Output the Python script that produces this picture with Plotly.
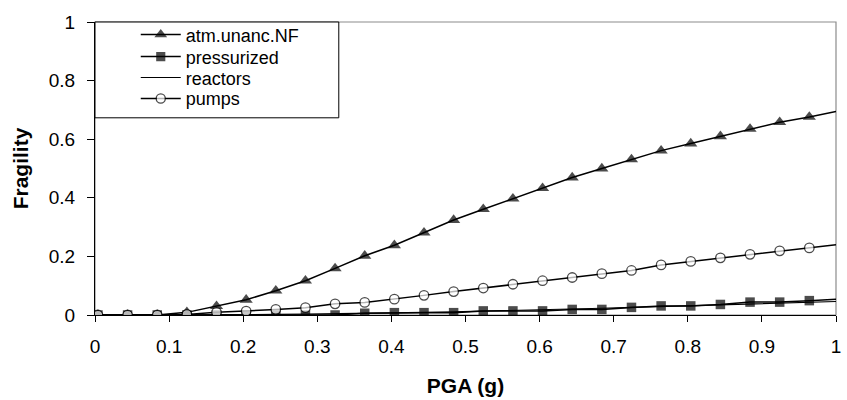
import plotly.graph_objects as go

# PGA values at the marked points, plus the curve end at 1.0
pga = [0.004, 0.044, 0.084, 0.124, 0.164, 0.204, 0.244, 0.284, 0.324, 0.364,
       0.404, 0.444, 0.484, 0.524, 0.564, 0.604, 0.644, 0.684, 0.724, 0.764,
       0.804, 0.844, 0.884, 0.924, 0.964, 1.0]

atm_unanc_nf = [0.0, 0.0, 0.0, 0.009, 0.03, 0.052, 0.083, 0.117, 0.159, 0.202,
                0.238, 0.281, 0.324, 0.361, 0.397, 0.433, 0.469, 0.500, 0.531, 0.561,
                0.585, 0.610, 0.635, 0.658, 0.676, 0.695]
pressurized = [0.0, 0.0, 0.0, 0.0, 0.0, 0.0, 0.0, 0.0, 0.0, 0.006,
               0.008, 0.008, 0.008, 0.014, 0.014, 0.014, 0.019, 0.019, 0.026, 0.031,
               0.031, 0.036, 0.044, 0.044, 0.049, 0.054]
reactors = [0.0, 0.0, 0.0, 0.0, 0.0, 0.001, 0.002, 0.003, 0.004, 0.005,
            0.007, 0.009, 0.011, 0.013, 0.015, 0.018, 0.020, 0.023, 0.026, 0.029,
            0.031, 0.034, 0.037, 0.040, 0.043, 0.046]
pumps = [0.0, 0.0, 0.0, 0.002, 0.009, 0.013, 0.019, 0.025, 0.038, 0.043,
         0.054, 0.067, 0.080, 0.092, 0.105, 0.117, 0.128, 0.141, 0.152, 0.171,
         0.183, 0.195, 0.207, 0.219, 0.229, 0.240]

series_names = ["atm.unanc.NF", "pressurized", "reactors", "pumps"]

x_ticks = [0, 0.1, 0.2, 0.3, 0.4, 0.5, 0.6, 0.7, 0.8, 0.9, 1]
x_tick_labels = ["0", "0.1", "0.2", "0.3", "0.4", "0.5", "0.6", "0.7", "0.8", "0.9", "1"]
y_ticks = [0, 0.2, 0.4, 0.6, 0.8, 1]
y_tick_labels = ["0", "0.2", "0.4", "0.6", "0.8", "1"]

FONT = "Liberation Sans, Arial, sans-serif"
n = len(pga)


def sizes(s):
    # markers on every sampled point except the curve end at 1.0
    return [s] * (n - 1) + [0]


fig = go.Figure()
fig.add_trace(go.Scatter(
    x=pga, y=atm_unanc_nf, name=series_names[0], mode="lines+markers",
    legend="legend",
    line=dict(color="black", width=1.5),
    marker=dict(symbol="triangle-up", size=sizes(11.5), color="black",
                line=dict(width=0))))
fig.add_trace(go.Scatter(
    x=pga, y=pressurized, name=series_names[1], mode="lines+markers",
    legend="legend2",
    line=dict(color="black", width=1.5),
    marker=dict(symbol="square", size=sizes(9.5), color="black",
                line=dict(width=0))))
fig.add_trace(go.Scatter(
    x=pga, y=reactors, name=series_names[2], mode="lines",
    legend="legend3",
    line=dict(color="black", width=1.2)))
fig.add_trace(go.Scatter(
    x=pga, y=pumps, name=series_names[3], mode="lines+markers",
    legend="legend4",
    line=dict(color="black", width=1.5),
    marker=dict(symbol="circle", size=sizes(9.5), color="white",
                line=dict(color="black", width=1.3))))

# plot-area border (grey) and legend box
fig.add_shape(type="rect", xref="paper", yref="paper", x0=0, x1=1, y0=0, y1=1,
              line=dict(color="#8c8c8c", width=1.2), layer="below")
fig.add_shape(type="rect", xref="paper", yref="paper", x0=0, x1=0.329,
              y0=0.673, y1=1, line=dict(color="black", width=1),
              fillcolor="white", layer="above")


def leg(yc):
    return dict(x=0.055, y=yc, xanchor="left", yanchor="middle",
                bgcolor="rgba(0,0,0,0)", borderwidth=0,
                font=dict(family=FONT, size=18, color="black"),
                itemwidth=40)


fig.update_layout(
    width=847, height=400,
    margin=dict(l=95, r=6, t=22, b=84),
    paper_bgcolor="white", plot_bgcolor="white",
    font=dict(family=FONT, size=19, color="black"),
    showlegend=True,
    legend=leg(0.956),
    legend2=leg(0.881),
    legend3=leg(0.8095),
    legend4=leg(0.738),
    xaxis=dict(range=[0, 1], tickvals=x_ticks, ticktext=x_tick_labels,
               showgrid=False, zeroline=False, showline=True,
               linecolor="black", linewidth=1.2,
               ticks="outside", ticklen=6, tickcolor="black",
               ticklabelstandoff=8, ticklabeloverflow="allow",
               title=dict(text="<b>PGA (g)</b>", font=dict(size=21), standoff=22)),
    yaxis=dict(range=[0, 1], tickvals=y_ticks, ticktext=y_tick_labels,
               showgrid=False, zeroline=False, showline=True,
               linecolor="black", linewidth=1.2,
               ticks="outside", ticklen=7, tickcolor="black",
               ticklabelstandoff=8,
               title=dict(text="<b>Fragility</b>", font=dict(size=21), standoff=14)),
)

fig.write_html(
    "out.html",
    config={"displayModeBar": False},
    post_script="document.body.style.margin='0';document.body.style.overflow='hidden';",
)
